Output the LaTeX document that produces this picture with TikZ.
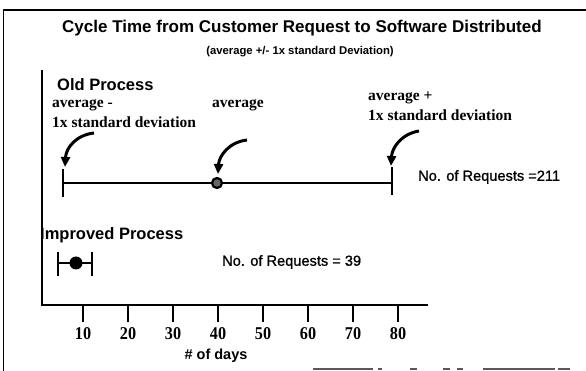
\documentclass[tikz,border=0pt]{standalone}
\usepackage{fontspec}
\setmainfont{Liberation Serif}
\setsansfont{Liberation Sans}
\newfontfamily\numfont[FakeStretch=0.9]{Liberation Serif}
\newfontfamily\reqfont[FakeBold=1]{Liberation Sans}
\usetikzlibrary{arrows.meta}
\tikzset{
  ttl/.style={font=\sffamily\bfseries\fontsize{17}{19}\selectfont, inner sep=0pt},
  subttl/.style={font=\sffamily\bfseries\fontsize{11.3}{13}\selectfont, inner sep=0pt},
  proc/.style={font=\sffamily\bfseries\fontsize{16.5}{18}\selectfont, inner sep=0pt, anchor=west},
  lbl/.style={font=\bfseries\fontsize{15.5}{17}\selectfont, inner sep=0pt, anchor=west},
  req/.style={font=\reqfont\fontsize{14.6}{16}\selectfont, inner sep=0pt, anchor=west},
  num/.style={font=\numfont\bfseries\fontsize{18}{20}\selectfont, inner sep=0pt},
  thickline/.style={line width=2.8pt},
  curvearrow/.style={line width=3pt, -{Triangle[length=10pt,width=9pt]}},
  frameline/.style={line width=1.8pt},
  scanline/.style={line width=1.2pt, black!65}
}
\begin{document}
\begin{tikzpicture}[x=1pt,y=-1pt]
\useasboundingbox (0,0) rectangle (586,371);
% frame
\coordinate (ftl) at (3.5,10);
\coordinate (fbl) at (3.5,371);
\coordinate (ftr) at (586,10);
\draw[frameline] (fbl) -- (ftl) -- (ftr);
\coordinate (b1) at (313,369); \coordinate (b2) at (373,369);
\coordinate (b3) at (483,369); \coordinate (b4) at (555,369);
\draw[scanline] (b1) -- (b2);
\draw[scanline] (b3) -- (b4);
\foreach \a/\b in {378/382,410/417,443/450,457/463,558/570}{
  \coordinate (s\a) at (\a,369); \coordinate (e\a) at (\b,369);
  \draw[scanline] (s\a) -- (e\a);
}
% titles
\node[ttl] (title) at (302,28) {Cycle Time from Customer Request to Software Distributed};
\node[subttl] (sub) at (300,52) {(average +/- 1x standard Deviation)};
% axes
\coordinate (ytop) at (42,70);
\coordinate (orig) at (42,305);
\coordinate (xend) at (428,305);
\draw[thickline] (ytop) -- (orig) -- (xend);
\foreach \x/\t in {83/10,128/20,173/30,218/40,263/50,308/60,353/70,398/80}{
  \coordinate (tk\t) at (\x,305);
  \coordinate (tb\t) at (\x,322);
  \draw[thickline] (tk\t) -- (tb\t);
  \node[num] (n\t) at (\x,334) {\t};
}
\node[font=\sffamily\bfseries\fontsize{14.5}{16}\selectfont, inner sep=0pt] (days) at (216,356) {\# of days};
% old process
\node[proc] (old) at (57,85) {Old Process};
\node[lbl] (lo1) at (52,105) {average -};
\node[lbl] (lo2) at (52,122) {1x standard deviation};
\node[lbl] (mid) at (212,105) {average};
\node[lbl] (hi1) at (368,98) {average +};
\node[lbl] (hi2) at (368,115) {1x standard deviation};
\coordinate (oL) at (63,183);
\coordinate (oR) at (392,183);
\draw[thickline] (oL) -- (oR);
\coordinate (oLt) at (63,169); \coordinate (oLb) at (63,197);
\coordinate (oRt) at (392,167); \coordinate (oRb) at (392,195);
\draw[thickline] (oLt) -- (oLb);
\draw[thickline] (oRt) -- (oRb);
\node[circle, draw, line width=2.2pt, fill=black!60, minimum size=10pt, inner sep=0pt] (avg) at (217,183) {};
% arrows
\coordinate (a1s) at (94,133); \coordinate (a1e) at (65,167);
\draw[curvearrow] (a1s) .. controls (76,135) and (66,148) .. (a1e);
\coordinate (a2s) at (247,140); \coordinate (a2e) at (218,174);
\draw[curvearrow] (a2s) .. controls (229,142) and (219,156) .. (a2e);
\coordinate (a3s) at (419,131); \coordinate (a3e) at (391,166);
\draw[curvearrow] (a3s) .. controls (401,134) and (392,148) .. (a3e);
\node[req] (r211) at (418,177) {No. of Requests =211};
% improved
\node[proc] (imp) at (40,235) {Improved Process};
\coordinate (iL) at (58,263); \coordinate (iR) at (92,263);
\draw[thickline] (iL) -- (iR);
\coordinate (iLt) at (58,252); \coordinate (iLb) at (58,276);
\coordinate (iRt) at (92,252); \coordinate (iRb) at (92,276);
\draw[thickline] (iLt) -- (iLb);
\draw[thickline] (iRt) -- (iRb);
\node[circle, fill=black, minimum size=13pt, inner sep=0pt] (idot) at (76,263) {};
\node[req] (r39) at (222,262) {No. of Requests = 39};
\end{tikzpicture}
\end{document}
